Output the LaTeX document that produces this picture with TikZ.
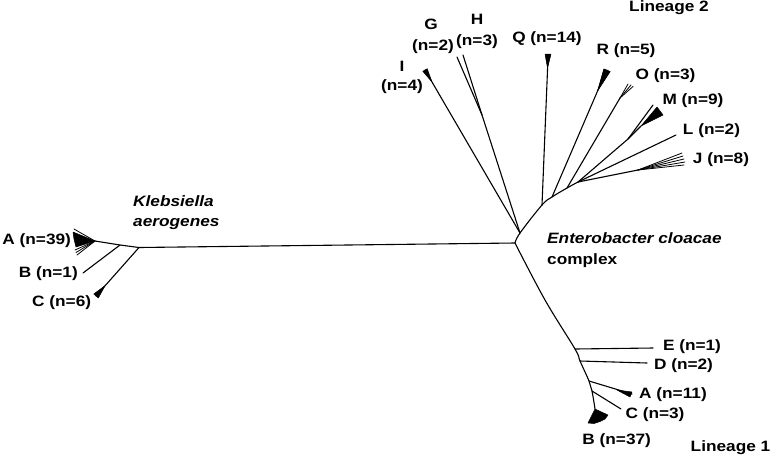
\documentclass[tikz,border=0pt]{standalone}
\usepackage{fontspec}
\setmainfont{Liberation Sans}
\newfontfamily\labfont[FakeStretch=1.15]{Liberation Sans}
\begin{document}
\begin{tikzpicture}[x=1pt,y=-1pt,
  br/.style={line width=1.1pt,line cap=round,line join=round},
  thin br/.style={line width=0.8pt,line cap=round},
  wedge/.style={fill=black,draw=black,line width=0.5pt,line join=round},
  lab/.style={font=\labfont\bfseries\fontsize{15}{18}\selectfont,inner sep=0pt},
  ilab/.style={font=\labfont\bfseries\itshape\fontsize{15}{18}\selectfont,inner sep=0pt}]
\useasboundingbox (0,0) rectangle (771,459);
% ---------- coordinates ----------
\coordinate (c0) at (515,243);
% Klebsiella
\coordinate (k2) at (139,247.5);
\coordinate (k1) at (120,245);
\coordinate (kA) at (95,241);
\coordinate (kB) at (83,273);
\coordinate (kC) at (96,296);
% Lineage 2 spine
\coordinate (e1) at (520,233);
\coordinate (e2) at (542,205);
\coordinate (e3) at (552,197);
\coordinate (e4) at (567,188);
\coordinate (e5) at (578,182);
% Lineage 1 spine
\coordinate (f0) at (545,300);
\coordinate (f1) at (575,349);
\coordinate (f2) at (580,361);
\coordinate (f3) at (589,381);
\coordinate (f4) at (592,391);
\coordinate (f5) at (595,409);
% Lineage 2 tips
\coordinate (iT) at (425,70);
\coordinate (gh) at (482,115);
\coordinate (gT) at (457,57);
\coordinate (hT) at (463,55);
\coordinate (qT) at (548,58);
\coordinate (r1) at (598,90);
\coordinate (o1) at (620,98);
\coordinate (m1) at (628,139);
\coordinate (mT) at (653,105);
\coordinate (m2) at (641,126);
\coordinate (lT) at (676,135);
\coordinate (j1) at (638,170);
% Lineage 1 tips
\coordinate (eT) at (653,348);
\coordinate (dT) at (647,363);
\coordinate (aT) at (632,394);
\coordinate (cT) at (621,409);
% ---------- Klebsiella aerogenes ----------
\draw[br] (c0) -- (k2) -- (k1) -- (kA);
\draw[br] (k1) -- (kB);
\draw[br] (k2) -- (kC);
\draw[wedge] (105.2,285.5) -- (98.3,298) -- (93.8,294) -- cycle;
\draw[wedge] (kA) -- (73,232) -- (74,239) -- (76,247) -- cycle;
\foreach \p in {(74,229),(75,250),(76,252.5),(77,255)} \draw[thin br] (kA) -- \p;
% ---------- Lineage 2 ----------
\draw[br] plot[smooth,tension=0.6] coordinates {(c0) (e1) (e2) (e3) (e4) (e5)};
\draw[br] (e1) -- (iT);
\draw[wedge] (432,82) -- (427.2,68.7) -- (422.8,71.3) -- cycle;
\draw[br] (e1) -- (gh) -- (gT);
\draw[br] (gh) -- (hT);
\draw[br] (e2) -- (qT);
\draw[wedge] (547.5,68) -- (545,54) -- (551,54) -- cycle;
\draw[br] (e3) -- (r1);
\draw[wedge] (r1) -- (604,69) -- (610,71.5) -- cycle;
\foreach \p in {(604,69),(606,69.5),(608,70),(610,71.5)} \draw[thin br] (r1) -- \p;
\draw[br] (e4) -- (o1);
\foreach \p in {(628,84),(631,85),(633,86.5)} \draw[thin br] (o1) -- \p;
\draw[br] (e5) -- (m1) -- (mT);
\draw[br] (m1) -- (m2);
\draw[wedge] (m2) -- (657,107) -- (663,115) -- cycle;
\draw[br] (e5) -- (lT);
\draw[br] (e5) -- (j1);
\foreach \p in {(682,153),(683,156),(684,159),(685,162),(684,165)} \draw[thin br] (j1) -- \p;
% ---------- Lineage 1 ----------
\draw[br] plot[smooth,tension=0.6] coordinates {(c0) (f0) (f1) (f2) (f3) (f4) (f5)};
\draw[br] (f1) -- (eT);
\draw[br] (f2) -- (dT);
\draw[br] (f3) -- (aT);
\draw[wedge] (617,390) -- (632,392) -- (630,397) -- cycle;
\draw[br] (f4) -- (cT);
\draw[wedge] (f5) -- (588,423) -- (594,423.5) -- (600,421.5) -- (605,419) -- (608,415) -- cycle;
% ---------- labels ----------
\node[lab] (lin2) at (669,8) {Lineage 2};
\node[lab] (lin1) at (730.5,448) {Lineage 1};
\node[lab] (lI) at (402,66) {I};
\node[lab] (lIn) at (402,87) {(n=4)};
\node[lab] (lG) at (431,24) {G};
\node[lab] (lGn) at (433,47) {(n=2)};
\node[lab] (lH) at (477,19) {H};
\node[lab] (lHn) at (477,42) {(n=3)};
\node[lab] (lQ) at (547,39) {Q (n=14)};
\node[lab] (lR) at (626,51) {R (n=5)};
\node[lab] (lO) at (665.5,76) {O (n=3)};
\node[lab] (lM) at (693,101) {M (n=9)};
\node[lab] (lL) at (711.5,131) {L (n=2)};
\node[lab] (lJ) at (721,160) {J (n=8)};
\node[lab] (lE) at (692,347) {E (n=1)};
\node[lab] (lD) at (683.5,366) {D (n=2)};
\node[lab] (lA) at (673,395) {A (n=11)};
\node[lab] (lC) at (655,415) {C (n=3)};
\node[lab] (lB) at (616.7,441) {B (n=37)};
\node[lab] (kLA) at (36.7,241) {A (n=39)};
\node[lab] (kLB) at (48.3,274) {B (n=1)};
\node[lab] (kLC) at (61.7,303) {C (n=6)};
\node[ilab,anchor=west] (ecc) at (547,238) {Enterobacter cloacae};
\node[lab,anchor=west] (ecc2) at (547,261) {complex};
\node[ilab,anchor=west] (kae1) at (133,201) {Klebsiella};
\node[ilab,anchor=west] (kae2) at (133,224) {aerogenes};
\end{tikzpicture}
\end{document}
